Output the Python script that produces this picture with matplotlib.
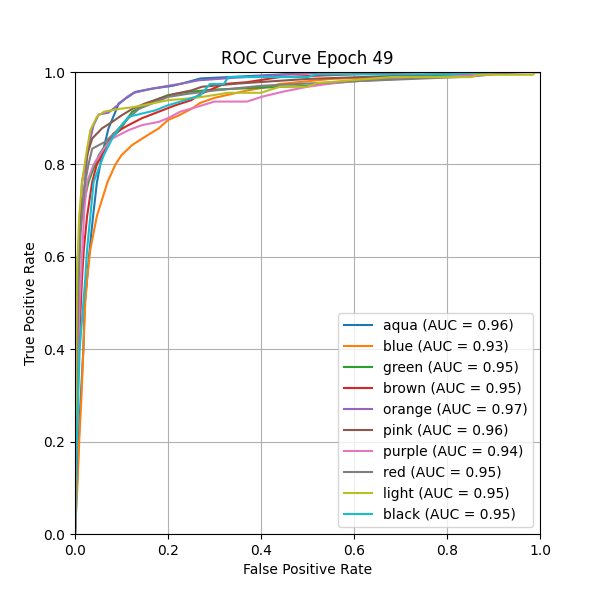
import matplotlib
matplotlib.use('Agg')
import matplotlib.pyplot as plt

# class names and AUC values as shown in the legend
class_names = ['aqua', 'blue', 'green', 'brown', 'orange', 'pink', 'purple', 'red', 'light', 'black']
auc_values = [0.96, 0.93, 0.95, 0.95, 0.97, 0.96, 0.94, 0.95, 0.95, 0.95]

# fpr / tpr points
fpr_aqua = [0, 0.004, 0.01, 0.018, 0.021, 0.025, 0.03, 0.038, 0.047, 0.058, 0.072, 0.087, 0.094, 0.108, 0.13, 0.166, 0.209, 0.23, 0.27, 0.35, 0.45, 0.55, 1]
tpr_aqua = [0, 0.1, 0.25, 0.4, 0.5, 0.54, 0.6, 0.68, 0.76, 0.82, 0.878, 0.914, 0.932, 0.942, 0.957, 0.964, 0.97, 0.975, 0.986, 0.99, 0.995, 1.0, 1]

fpr_blue = [0, 0.005, 0.009, 0.014, 0.018, 0.022, 0.026, 0.033, 0.047, 0.07, 0.087, 0.1, 0.123, 0.151, 0.18, 0.2, 0.223, 0.25, 0.269, 0.3, 0.37, 0.4, 0.44, 0.55, 0.7, 0.85, 0.9, 1]
tpr_blue = [0, 0.1, 0.2, 0.3, 0.4, 0.5, 0.552, 0.616, 0.688, 0.762, 0.8, 0.82, 0.842, 0.86, 0.878, 0.896, 0.906, 0.92, 0.933, 0.944, 0.96, 0.965, 0.974, 0.985, 0.99, 0.995, 1.0, 1]

fpr_green = [0, 0.002, 0.004, 0.006, 0.015, 0.029, 0.051, 0.076, 0.097, 0.108, 0.123, 0.151, 0.18, 0.2, 0.244, 0.3, 0.4, 0.5, 0.55, 0.6, 0.75, 0.85, 0.95, 1]
tpr_green = [0, 0.2, 0.5, 0.6, 0.7, 0.762, 0.82, 0.856, 0.874, 0.892, 0.914, 0.928, 0.942, 0.95, 0.957, 0.962, 0.966, 0.97, 0.976, 0.98, 0.99, 0.995, 1.0, 1]

fpr_brown = [0, 0.004, 0.008, 0.015, 0.019, 0.026, 0.037, 0.047, 0.065, 0.083, 0.115, 0.144, 0.18, 0.216, 0.25, 0.269, 0.32, 0.37, 0.44, 0.6, 0.75, 1]
tpr_brown = [0, 0.2, 0.4, 0.552, 0.616, 0.688, 0.762, 0.8, 0.834, 0.867, 0.885, 0.9, 0.914, 0.928, 0.939, 0.952, 0.974, 0.978, 0.989, 0.995, 1.0, 1]

fpr_orange = [0, 0.002, 0.005, 0.01, 0.015, 0.021, 0.028, 0.04, 0.051, 0.072, 0.094, 0.112, 0.126, 0.166, 0.2, 0.23, 0.266, 0.35, 0.48, 0.6, 1]
tpr_orange = [0, 0.3, 0.55, 0.65, 0.7, 0.762, 0.834, 0.885, 0.908, 0.912, 0.93, 0.946, 0.955, 0.964, 0.97, 0.975, 0.982, 0.988, 0.996, 1.0, 1]

fpr_pink = [0, 0.003, 0.007, 0.01, 0.015, 0.026, 0.037, 0.058, 0.08, 0.1, 0.123, 0.151, 0.18, 0.216, 0.25, 0.273, 0.35, 0.5, 0.7, 0.9, 1]
tpr_pink = [0, 0.3, 0.55, 0.65, 0.762, 0.82, 0.856, 0.878, 0.892, 0.906, 0.92, 0.932, 0.942, 0.953, 0.96, 0.968, 0.975, 0.985, 0.992, 1.0, 1]

fpr_purple = [0, 0.004, 0.01, 0.015, 0.02, 0.026, 0.04, 0.062, 0.08, 0.115, 0.144, 0.18, 0.2, 0.226, 0.254, 0.3, 0.37, 0.404, 0.45, 0.5, 0.55, 0.6, 0.8, 0.97, 1]
tpr_purple = [0, 0.3, 0.5, 0.6, 0.7, 0.762, 0.8, 0.834, 0.856, 0.874, 0.885, 0.892, 0.9, 0.914, 0.922, 0.936, 0.936, 0.947, 0.958, 0.968, 0.975, 0.98, 0.99, 1.0, 1]

fpr_red = [0, 0.003, 0.008, 0.012, 0.016, 0.022, 0.029, 0.037, 0.065, 0.087, 0.115, 0.137, 0.166, 0.2, 0.244, 0.3, 0.4, 0.6, 0.85, 0.95, 1]
tpr_red = [0, 0.3, 0.55, 0.65, 0.7, 0.762, 0.8, 0.834, 0.849, 0.87, 0.9, 0.92, 0.932, 0.946, 0.953, 0.96, 0.97, 0.98, 0.99, 1.0, 1]

fpr_light = [0, 0.002, 0.004, 0.009, 0.015, 0.026, 0.033, 0.047, 0.062, 0.094, 0.126, 0.166, 0.2, 0.237, 0.273, 0.33, 0.40, 0.44, 0.5, 0.52, 0.68, 0.85, 0.87, 0.985, 0.99, 1]
tpr_light = [0, 0.3, 0.552, 0.688, 0.76, 0.834, 0.874, 0.903, 0.914, 0.92, 0.924, 0.932, 0.939, 0.942, 0.946, 0.955, 0.955, 0.968, 0.968, 0.976, 0.989, 0.989, 0.994, 0.994, 1.0, 1]

fpr_black = [0, 0.004, 0.01, 0.022, 0.026, 0.033, 0.04, 0.062, 0.08, 0.1, 0.115, 0.144, 0.173, 0.2, 0.237, 0.27, 0.29, 0.32, 0.33, 0.5, 0.52, 0.8, 0.9, 1]
tpr_black = [0, 0.2, 0.4, 0.552, 0.616, 0.688, 0.762, 0.82, 0.856, 0.885, 0.903, 0.91, 0.917, 0.928, 0.939, 0.95, 0.974, 0.974, 0.989, 0.989, 0.995, 0.995, 1.0, 1]

fprs = [fpr_aqua, fpr_blue, fpr_green, fpr_brown, fpr_orange, fpr_pink, fpr_purple, fpr_red, fpr_light, fpr_black]
tprs = [tpr_aqua, tpr_blue, tpr_green, tpr_brown, tpr_orange, tpr_pink, tpr_purple, tpr_red, tpr_light, tpr_black]

plt.figure(figsize=(6, 6), dpi=100)
for name, auc, fpr, tpr in zip(class_names, auc_values, fprs, tprs):
    plt.plot(fpr, tpr, label=f'{name} (AUC = {auc:.2f})')

plt.xlim(0, 1)
plt.ylim(0, 1)
plt.xlabel('False Positive Rate')
plt.ylabel('True Positive Rate')
plt.title('ROC Curve Epoch 49')
plt.legend(loc='lower right')
plt.grid(True)
plt.savefig('out.png')
